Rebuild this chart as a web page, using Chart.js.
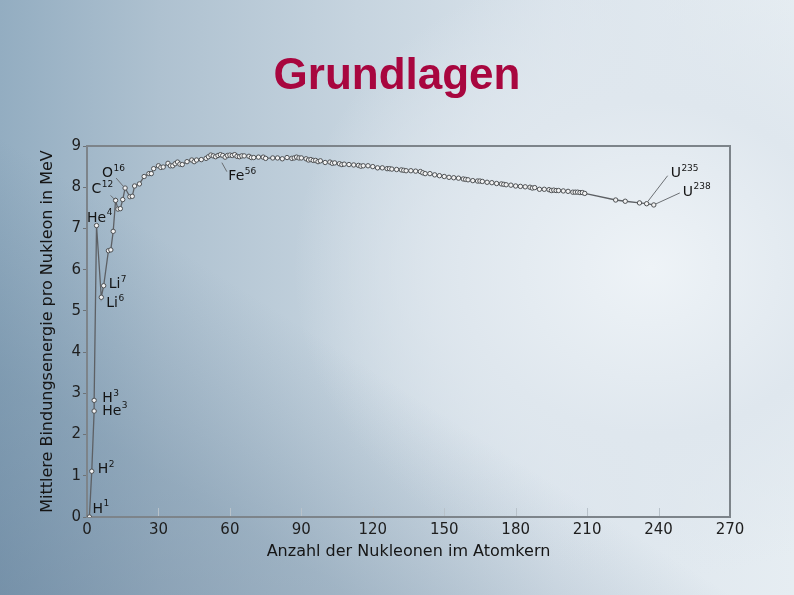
<!DOCTYPE html>
<html><head><meta charset="utf-8">
<script src="https://cdn.jsdelivr.net/npm/chart.js@4.4.1/dist/chart.umd.min.js"></script>
<style>
html,body{margin:0;padding:0;width:794px;height:595px;overflow:hidden;}
body{
 background:
  linear-gradient(212deg, rgba(0,0,0,0) 58%, rgba(80,112,140,0.30) 80%, rgba(70,100,130,0.38) 100%),
  radial-gradient(ellipse 60% 70% at 82% 45%, #eef3f7 0%, #dfe7ee 40%, rgba(214,225,234,0) 75%),
  linear-gradient(90deg, #93adc1 0%, #aec1d0 20%, #c6d4df 45%, #dbe4ec 70%, #e6edf2 100%);
}
canvas{display:block}
</style></head><body>
<canvas id="c" width="794" height="595"></canvas>
<script>
// Mass numbers (A) and mean binding energy per nucleon (MeV)
const massNumbers = [1,2,3,3,4,6,7,9,10,11,12,13,14,15,16,18,19,20,22,24,
  26,27,28,30,31,32,34,35,36,37,38,39,40,42,44,45,46,48,50,51,
  52,53,54,55,56,57,58,59,60,61,62,63,64,65,66,68,69,70,72,74,
  75,78,80,82,84,86,87,88,89,90,92,93,94,95,96,97,98,100,102,103,
  104,106,107,108,110,112,114,115,116,118,120,122,124,126,127,128,130,132,133,134,
  136,138,140,141,142,144,146,148,150,152,154,156,158,159,160,162,164,165,166,168,
  170,172,174,175,176,178,180,182,184,186,187,188,190,192,194,195,196,197,198,200,
  202,204,205,206,207,208,209,222,226,232,235,238];
const bindingEnergy = [0,1.11,2.57,2.83,7.07,5.33,5.61,6.46,6.48,6.93,7.68,7.47,7.48,7.70,7.98,7.77,7.78,8.03,8.08,8.26,
  8.33,8.33,8.45,8.52,8.48,8.49,8.58,8.52,8.52,8.57,8.61,8.56,8.55,8.62,8.66,8.62,8.66,8.67,8.70,8.74,
  8.78,8.76,8.74,8.77,8.79,8.77,8.73,8.77,8.78,8.77,8.79,8.75,8.74,8.76,8.76,8.75,8.72,8.72,8.73,8.73,
  8.70,8.71,8.71,8.69,8.72,8.70,8.71,8.73,8.71,8.71,8.69,8.66,8.67,8.65,8.65,8.62,8.64,8.60,8.61,8.58,
  8.59,8.57,8.55,8.56,8.55,8.54,8.53,8.51,8.52,8.52,8.50,8.47,8.47,8.45,8.45,8.44,8.43,8.42,8.41,8.40,
  8.40,8.39,8.38,8.35,8.33,8.33,8.30,8.28,8.26,8.24,8.23,8.22,8.20,8.19,8.18,8.16,8.15,8.15,8.14,8.12,
  8.11,8.09,8.08,8.07,8.06,8.05,8.03,8.02,8.01,8.00,7.98,7.99,7.95,7.95,7.94,7.92,7.93,7.92,7.92,7.91,
  7.90,7.88,7.88,7.88,7.87,7.87,7.85,7.69,7.66,7.62,7.60,7.57];
const xTickValues = [0,30,60,90,120,150,180,210,240,270];
const yTickValues = [0,1,2,3,4,5,6,7,8,9];
const chartTitle = 'Grundlagen';
// Labelled nuclides: element symbol, mass number text, index of the point in the data
const labelElements = ['H','H','He','H','He','Li','Li','C','O','Fe','U','U'];
const labelMassText = ['1','2','3','3','4','6','7','12','16','56','235','238'];
const labelPointIndex = [0,1,2,3,4,5,6,10,14,44,massNumbers.length-2,massNumbers.length-1];

// style: label offsets (px) relative to point, optional leader line
const labelStyle = [
  {dx:3, dy:-8},
  {dx:6, dy:-2},
  {dx:8, dy:0},
  {dx:8, dy:-2},
  {dx:-9.5, dy:-7.5},
  {dx:5, dy:6},
  {dx:5, dy:-1},
  {dx:-24, dy:-11, lead:[-5,-5,-1,-1]},
  {dx:-23, dy:-14.5, lead:[-9,-10,-2,-2]},
  {dx:8, dy:22, lead:[1.5,8,6.5,17]},
  {dx:24, dy:-30, lead:[1,-2,21,-28]},
  {dx:29, dy:-13, lead:[2,-1,26,-12]}
];

const titlePlugin = {
  id:'pageTitle',
  afterDraw(chart){
    const ctx = chart.ctx;
    ctx.save();
    ctx.fillStyle = '#a8063f';
    ctx.font = 'bold 44px "Liberation Sans", Arial, sans-serif';
    ctx.textAlign = 'center';
    ctx.textBaseline = 'alphabetic';
    ctx.fillText(chartTitle, chart.width/2, 89);
    ctx.restore();
  }
};

const framePlugin = {
  id:'frame',
  beforeDatasetsDraw(chart){
    const {ctx, chartArea:a, scales} = chart;
    ctx.save();
    ctx.strokeStyle = '#b8c2ca';
    ctx.lineWidth = 1;
    xTickValues.forEach(v=>{
      const x = Math.round(scales.x.getPixelForValue(v))+0.5;
      ctx.beginPath(); ctx.moveTo(x, a.bottom); ctx.lineTo(x, a.bottom-9); ctx.stroke();
    });
    ctx.strokeStyle = '#7d848a';
    ctx.lineWidth = 2;
    ctx.strokeRect(a.left, a.top, a.right-a.left, a.bottom-a.top);
    ctx.restore();
  }
};

const labelPlugin = {
  id:'nuclideLabels',
  afterDatasetsDraw(chart){
    const {ctx, scales} = chart;
    ctx.save();
    labelPointIndex.forEach((idx,i)=>{
      const px = scales.x.getPixelForValue(massNumbers[idx]);
      const py = scales.y.getPixelForValue(bindingEnergy[idx]);
      const s = labelStyle[i];
      if (s.lead){
        ctx.strokeStyle = '#6b6f73';
        ctx.lineWidth = 1;
        ctx.beginPath();
        ctx.moveTo(px+s.lead[0], py+s.lead[1]);
        ctx.lineTo(px+s.lead[2], py+s.lead[3]);
        ctx.stroke();
      }
      const tx = px + s.dx, ty = py + s.dy;
      ctx.fillStyle = '#141414';
      ctx.textBaseline = 'middle';
      ctx.textAlign = 'left';
      ctx.font = '14px "DejaVu Sans"';
      ctx.fillText(labelElements[i], tx, ty);
      const w = ctx.measureText(labelElements[i]).width;
      ctx.font = '9px "DejaVu Sans"';
      ctx.fillText(labelMassText[i], tx + w + 0.5, ty - 5);
    });
    ctx.restore();
  }
};

new Chart(document.getElementById('c'), {
  type:'scatter',
  data:{
    datasets:[{
      data: massNumbers.map((a,i)=>({x:a, y:bindingEnergy[i]})),
      showLine:true,
      borderColor:'#5d6064',
      borderWidth:1.3,
      pointRadius:2.2,
      pointBackgroundColor:'#f2f2f2',
      pointBorderColor:'#4c4f52',
      pointBorderWidth:1
    }]
  },
  options:{
    responsive:false,
    animation:false,
    devicePixelRatio:1,
    layout:{padding:{left:34, right:64, top:146, bottom:29.4}},
    plugins:{
      legend:{display:false},
      tooltip:{enabled:false},
      title:{display:false}
    },
    scales:{
      x:{
        type:'linear', min:0, max:270,
        afterBuildTicks: s => { s.ticks = xTickValues.map(v=>({value:v})); },
        ticks:{color:'#1e1e1e', font:{family:'"DejaVu Sans"', size:15}, padding:4, maxRotation:0},
        grid:{display:true, drawOnChartArea:false, drawTicks:false},
        border:{display:false},
        title:{display:true, text:'Anzahl der Nukleonen im Atomkern', color:'#151515',
          font:{family:'"DejaVu Sans"', size:16}, padding:{top:4, bottom:4}},
        afterFit: s => { s.height = 48.6; }
      },
      y:{
        type:'linear', min:0, max:9,
        afterBuildTicks: s => { s.ticks = yTickValues.map(v=>({value:v})); },
        ticks:{color:'#1e1e1e', font:{family:'"DejaVu Sans"', size:15}, padding:2},
        grid:{display:true, drawOnChartArea:false, drawTicks:true, tickLength:4, color:'#6d7378'},
        border:{display:false},
        title:{display:true, text:'Mittlere Bindungsenergie pro Nukleon in MeV', color:'#151515',
          font:{family:'"DejaVu Sans"', size:16}, padding:{top:4, bottom:4}},
        afterFit: s => { s.width = 53; }
      }
    }
  },
  plugins:[framePlugin, labelPlugin, titlePlugin]
});
</script>
</body></html>
